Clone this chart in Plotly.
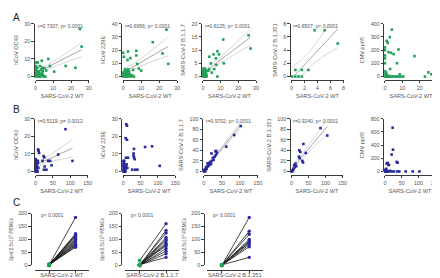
import numpy as np
import plotly.graph_objects as go

W, H = 440, 278
GREEN = "#22a05a"
BLUE = "#2a2a9c"
AX = "#3a3a3a"
TXT = "#555555"
FONT = "Liberation Sans, Arial, sans-serif"

# ---------------- data: row A (green) ----------------
a1_x = [25, 26, 22.5, 17, 7.2, 3.5, 0.3, 1.2, 8.1, 10.5, 6, 5, 4, 2.5, 1, 0, 0, 0.5, 1.5, 2,
        3, 3.5, 4.5, 0, 0.8, 1.8, 2.8, 0.2, 1.1, 2.2, 3.2, 4.2, 0.5, 1.5, 0, 5.5, 2, 1, 0.3, 3.8]
a1_y = [27, 17, 5, 6, 10, 9, 8, 8, 6, 2.8, 3.4, 4.7, 3, 6, 5, 0, 2, 1, 0, 3,
        1, 2, 0, 4, 3, 2, 0, 6, 1, 0, 4, 1, 5, 3, 1, 0, 1.5, 0.5, 3.5, 5]

a2_x = [24, 16.4, 21.8, 25, 0, 0.4, 2.4, 2.7, 7.3, 7.3, 4, 7.8, 10, 8.7, 5.5, 2.7, 1, 1.8,
        0, 0.5, 1, 1.5, 2, 2.5, 3, 3.5, 4, 0, 1, 2, 3, 0.2, 1.2, 2.2, 3.2, 4.5, 0.7, 1.7, 5, 6]
a2_y = [35.5, 26, 17.5, 9.6, 18, 15, 12.5, 19, 19.5, 16, 14, 9.5, 4.5, 6, 5, 5.5, 5.5, 4.5,
        0, 1, 2, 0, 1, 3, 0, 2, 1, 3, 4, 0, 2, 1, 0, 2, 4, 0, 2, 3, 1, 0]

a3_x = [25.8, 26.9, 11.5, 8.2, 6, 3.6, 7.3, 9.1, 4.5, 7.6, 11.8, 6.4, 8.2, 3, 3.5, 5,
        0, 0.3, 0.6, 1, 1.3, 1.6, 2, 0, 0.5, 1, 1.5, 2, 0.2, 0.8, 1.2, 1.8, 0, 0.4, 1, 1.4]
a3_y = [15.6, 10.6, 14, 9.6, 8.4, 7.5, 6.9, 8.4, 5, 4.4, 5, 2.8, 0, 2.2, 2.8, 1.5,
        0, 0.5, 1, 0, 1.5, 2, 0.5, 1, 2.5, 3, 1, 0, 2, 0, 0.5, 1, 2, 3, 1.5, 2.5]

a4_x = [3.55, 5.1, 7.1, 0.6, 1.6, 2.6, 0.1, 0.6, 1.1, 1.6]
a4_y = [7, 7, 5, 1, 1, 1, 0, 0, 0, 0]

a5_x = [4, 2.8, 1, 1.6, 0, 0, 2, 3.5, 5, 7.8, 0, 0, 0, 6.9, 17, 3, 25, 26.7, 23, 8.5,
        0, 0.5, 1, 1.5, 2, 3, 4, 5, 6, 7, 8, 9, 10.5, 0.3, 0.8, 0, 1.2, 2.5]
a5_y = [355, 298, 270, 255, 220, 200, 185, 180, 170, 205, 160, 138, 101, 101, 155, 57, 32, 17, 0, 17,
        0, 0, 0, 0, 0, 0, 0, 0, 0, 0, 0, 0, 0, 20, 30, 40, 10, 5]

# ---------------- data: row B (blue) ----------------
b1_x = [86, 106, 65, 9, 10, 23, 25, 36, 42, 20, 5, 7, 46, 26, 24, 31, 7, 9,
        0, 1, 2, 3, 4, 5, 6, 0, 1, 2, 3, 4, 0.5, 1.5, 2.5, 3.5, 0, 2, 4, 6, 8, 1, 3, 5]
b1_y = [24, 6, 9.6, 11.5, 10.5, 8.7, 8, 6, 6, 6, 5, 5, 3.5, 2.8, 1, 1, 12.5, 11.8,
        0, 1, 2, 3, 4, 5, 6, 7, 0, 1, 2, 3, 4, 5, 6, 0, 1, 3, 5, 0, 2, 4, 6, 2]

b2_x = [9, 11, 7, 11, 31, 30, 30, 63, 83, 105, 41, 31, 33, 26, 35, 8, 14,
        0, 1, 2, 3, 4, 5, 6, 7, 0, 1, 2, 3, 4, 5, 6, 8, 10, 2, 4, 6, 12, 1]
b2_y = [26.8, 26, 18.9, 18, 12.8, 10.2, 9, 13.9, 14.3, 3.2, 1, 8, 7, 1, 1, 7.8, 7.8,
        0, 1, 2, 3, 4, 0, 1, 2, 3, 4, 5, 6, 0, 1, 2, 3, 4, 5, 1, 0, 2, 6]

b3_x = [102, 84, 62, 32, 34, 36, 33, 21, 25, 27, 22, 18, 20, 15, 12, 10, 8, 6, 5, 3, 2, 0, 1, 4, 7, 9, 14, 30]
b3_y = [86, 69, 47, 38, 39, 35, 31, 34, 26, 22, 20, 18, 14, 12, 10, 15, 6, 8, 4, 2, 0, 0, 3, 1, 5, 9, 16, 28]

b4_x = [85, 105, 35, 23, 26, 42, 22, 24, 32, 34, 12, 8, 10, 6, 3, 2, 0, 5, 1, 14]
b4_y = [82, 68, 52, 40, 37, 35, 28, 25, 20, 17, 15, 12, 8, 5, 2, 0, 0, 3, 1, 10]

b5_x = [23, 24, 20, 35, 38, 5, 8, 12, 10, 3, 6, 4, 0, 2, 4, 7, 12, 20, 27, 37, 43, 62, 83, 103, 1, 15]
b5_y = [663, 330, 256, 144, 133, 120, 130, 100, 100, 30, 0, 40, 0, 0, 0, 0, 0, 0, 0, 0, 0, 0, 0, 0, 20, 10]

# ---------------- data: row C (paired) ----------------
c1_pre = [2, 1, 3, 0, 4, 2, 1, 3, 0, 2, 5, 1, 2, 3]
c1_post = [185, 122, 118, 115, 110, 105, 100, 95, 90, 86, 82, 78, 75, 70]
c2_pre = [19, 0, 2, 1, 3, 0, 2, 1, 4, 0, 2, 1, 3]
c2_post = [161, 135, 125, 108, 100, 95, 85, 80, 75, 65, 55, 45, 31]
c3_pre = [0, 1, 2, 0, 1, 3, 2, 0, 1, 2]
c3_post = [185, 132, 120, 100, 95, 90, 86, 80, 72, 31]

x_title = "SARS-CoV-2 WT"
c_titles = ["SARS-CoV-2 WT", "SARS-CoV-2 B.1.1.7", "SARS-CoV-2 B.1.351"]
c_ytitle = "Spot/2.5x10<sup>5</sup> PBMCs"


def fx(p):
    return p / W


def fy(p):
    return 1 - p / H


panels = [
    dict(x=a1_x, y=a1_y, c=GREEN, xd=(26, 80), yd=(13, 67), xr=30, xt=[0, 10, 20, 30], yr=30,
         yt=[0, 10, 20, 30], yl="hCoV OC43", txt="r=0.7307; p< 0.0001"),
    dict(x=a2_x, y=a2_y, c=GREEN, xd=(115, 170), yd=(13, 67), xr=30, xt=[0, 10, 20, 30], yr=40,
         yt=[0, 10, 20, 30, 40], yl="hCoV 229E", txt="r=0.6956; p< 0.0001"),
    dict(x=a3_x, y=a3_y, c=GREEN, xd=(196, 250), yd=(13, 67), xr=30, xt=[0, 10, 20, 30], yr=20,
         yt=[0, 5, 10, 15, 20], yl="SARS-CoV-2 B.1.1.7", txt="r=0.8125; p< 0.0001"),
    dict(x=a4_x, y=a4_y, c=GREEN, xd=(286, 339), yd=(13, 67), xr=8, xt=[0, 2, 4, 6, 8], yr=8,
         yt=[0, 2, 4, 6, 8], yl="SARS-CoV-2 B.1.351", txt="r=0.8507; p< 0.0001"),
    dict(x=a5_x, y=a5_y, c=GREEN, xd=(381, 434), yd=(13, 67), xr=30, xt=[0, 10, 20, 30], yr=400,
         yt=[0, 100, 200, 300, 400], yl="CMV pp65", txt=None),
    dict(x=b1_x, y=b1_y, c=BLUE, xd=(26, 79), yd=(110, 164), xr=150, xt=[0, 50, 100, 150], yr=30,
         yt=[0, 10, 20, 30], yl="hCoV OC43", txt="r=0.5119; p= 0.0012"),
    dict(x=b2_x, y=b2_y, c=BLUE, xd=(115, 168), yd=(110, 164), xr=150, xt=[0, 50, 100, 150], yr=30,
         yt=[0, 10, 20, 30], yl="hCoV 229E", txt=None),
    dict(x=b3_x, y=b3_y, c=BLUE, xd=(197, 252), yd=(110, 164), xr=150, xt=[0, 50, 100, 150], yr=100,
         yt=[0, 20, 40, 60, 80, 100], yl="SARS-CoV-2 B.1.1.7", txt="r=0.9702; p< 0.0001"),
    dict(x=b4_x, y=b4_y, c=BLUE, xd=(286, 338), yd=(110, 164), xr=150, xt=[0, 50, 100, 150], yr=100,
         yt=[0, 20, 40, 60, 80, 100], yl="SARS-CoV-2 B.1.351", txt="r=0.9240; p< 0.0001"),
    dict(x=b5_x, y=b5_y, c=BLUE, xd=(381, 432), yd=(110, 164), xr=150, xt=[0, 50, 100, 150], yr=800,
         yt=[0, 200, 400, 600, 800], yl="CMV pp65", txt=None),
]

cpanels = [
    dict(pre=c1_pre, post=c1_post, xd=(25, 80), yax=21, title=c_titles[0]),
    dict(pre=c2_pre, post=c2_post, xd=(117, 172), yax=113, title=c_titles[1]),
    dict(pre=c3_pre, post=c3_post, xd=(200, 257), yax=197, title=c_titles[2]),
]

fig = go.Figure()
layout = {}
annotations = []
tickfont = dict(size=5.4, color=TXT, family=FONT)
titlefont = dict(size=5.6, color=TXT, family=FONT)


def axis_common():
    return dict(showgrid=False, zeroline=False, showline=True, linecolor=AX, linewidth=0.9,
                ticks="outside", ticklen=2.5, tickwidth=0.8, tickcolor=AX, tickfont=tickfont,
                anchor="free", fixedrange=True)


idx = 0
for p in panels:
    idx += 1
    xa = "xaxis" if idx == 1 else f"xaxis{idx}"
    ya = "yaxis" if idx == 1 else f"yaxis{idx}"
    xr_ = "x" if idx == 1 else f"x{idx}"
    yr_ = "y" if idx == 1 else f"y{idx}"
    x0, x1 = p["xd"]
    yt0, yb0 = p["yd"]
    xa_d = axis_common()
    xa_d.update(domain=[fx(x0), fx(x1)], range=[0, p["xr"]], tickvals=p["xt"],
                position=fy(yb0 + 3.5), title=dict(text=x_title, font=titlefont, standoff=3.5))
    ya_d = axis_common()
    ya_d.update(domain=[fy(yb0), fy(yt0)], range=[0, p["yr"]], tickvals=p["yt"],
                position=fx(x0 - 1.8), title=dict(text=p["yl"], font=titlefont, standoff=4))
    layout[xa] = xa_d
    layout[ya] = ya_d

    if p["txt"]:
        x = np.array(p["x"], float)
        y = np.array(p["y"], float)
        n = len(x)
        b, a = np.polyfit(x, y, 1)
        xs = np.linspace(x.min(), x.max(), 60)
        yhat = a + b * xs
        resid = y - (a + b * x)
        s = np.sqrt(np.sum(resid ** 2) / (n - 2))
        sxx = np.sum((x - x.mean()) ** 2)
        se = s * np.sqrt(1 / n + (xs - x.mean()) ** 2 / sxx)
        t = 2.0
        for yy, col in [(yhat + t * se, "#cdcdcd"), (yhat - t * se, "#cdcdcd"), (yhat, "#8e8e8e")]:
            fig.add_trace(go.Scatter(x=xs, y=yy, mode="lines", line=dict(color=col, width=0.8),
                                     xaxis=xr_, yaxis=yr_, showlegend=False, hoverinfo="skip",
                                     cliponaxis=True))
        annotations.append(dict(text=p["txt"], x=fx(x0), y=fy(yt0 + 2), xref="paper", yref="paper",
                                xanchor="left", yanchor="middle", showarrow=False,
                                font=dict(size=5, color=TXT, family=FONT)))
    fig.add_trace(go.Scatter(x=p["x"], y=p["y"], mode="markers",
                             marker=dict(color=p["c"], size=2.6, symbol="square", line=dict(width=0)),
                             xaxis=xr_, yaxis=yr_, showlegend=False, cliponaxis=False))

for cp in cpanels:
    idx += 1
    xa = f"xaxis{idx}"
    ya = f"yaxis{idx}"
    xr_ = f"x{idx}"
    yr_ = f"y{idx}"
    x0, x1 = cp["xd"]
    yt0, yb0 = 207, 260
    xa_d = axis_common()
    xa_d.update(domain=[fx(x0), fx(x1)], range=[-0.55, 1.5], tickvals=[0, 1], showticklabels=False,
                position=fy(yb0 + 4.5), title=dict(text=cp["title"], font=titlefont, standoff=0))
    ya_d = axis_common()
    ya_d.update(domain=[fy(yb0), fy(yt0)], range=[0, 200], tickvals=[0, 50, 100, 150, 200],
                position=fx(cp["yax"]), title=dict(text=c_ytitle, font=dict(size=4.6, color=TXT, family=FONT),
                                                   standoff=3))
    layout[xa] = xa_d
    layout[ya] = ya_d
    for pre, post in zip(cp["pre"], cp["post"]):
        fig.add_trace(go.Scatter(x=[0, 1], y=[pre, post], mode="lines",
                                 line=dict(color="#1a1a1a", width=0.8),
                                 xaxis=xr_, yaxis=yr_, showlegend=False, hoverinfo="skip",
                                 cliponaxis=False))
    fig.add_trace(go.Scatter(x=[1] * len(cp["post"]), y=cp["post"], mode="markers",
                             marker=dict(color=BLUE, size=3.4, line=dict(width=0)),
                             xaxis=xr_, yaxis=yr_, showlegend=False, cliponaxis=False))
    fig.add_trace(go.Scatter(x=[0] * len(cp["pre"]), y=cp["pre"], mode="markers",
                             marker=dict(color=GREEN, size=3.8, line=dict(width=0)),
                             xaxis=xr_, yaxis=yr_, showlegend=False, cliponaxis=False))
    annotations.append(dict(text="p< 0.0001", x=fx(x0 + 4), y=fy(209), xref="paper", yref="paper",
                            xanchor="left", yanchor="middle", showarrow=False,
                            font=dict(size=5, color=TXT, family=FONT)))

for lab, yy in [("A", 7), ("B", 101), ("C", 196)]:
    annotations.append(dict(text=lab, x=fx(1), y=fy(yy), xref="paper", yref="paper",
                            xanchor="left", yanchor="middle", showarrow=False,
                            font=dict(size=10, color="#222222", family=FONT)))

fig.update_layout(width=W, height=H, margin=dict(l=0, r=0, t=0, b=0),
                  paper_bgcolor="white", plot_bgcolor="white", showlegend=False,
                  font=dict(family=FONT), annotations=annotations, **layout)

fig.write_html("out.html")
